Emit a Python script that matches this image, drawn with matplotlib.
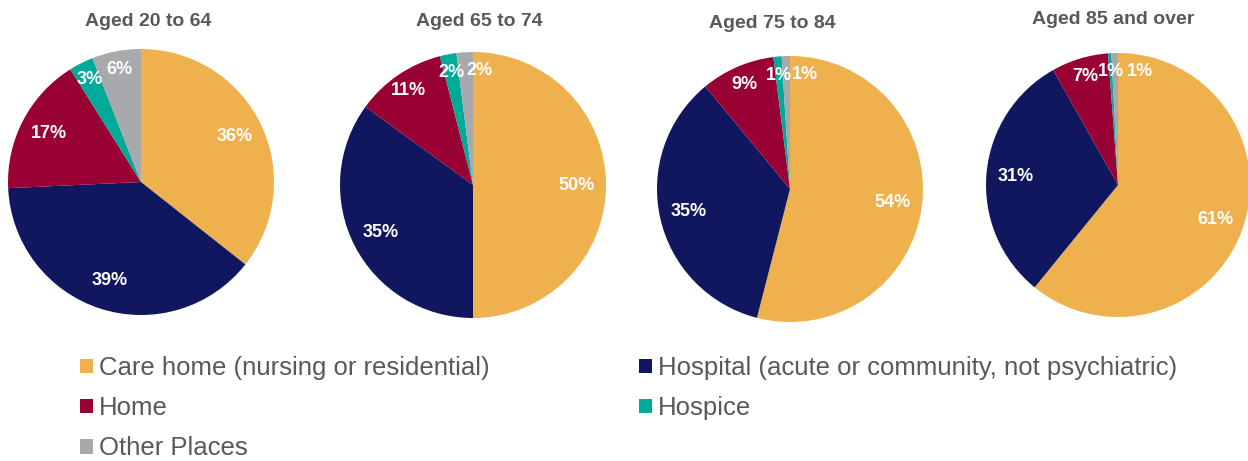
import numpy as np
import matplotlib
matplotlib.use('Agg')
import matplotlib.pyplot as plt
from matplotlib.patches import Patch

plt.rcParams['font.family'] = ['Liberation Sans', 'DejaVu Sans']

# data
age_groups = ['Aged 20 to 64', 'Aged 65 to 74', 'Aged 75 to 84', 'Aged 85 and over']
places = ['Care home (nursing or residential)',
          'Hospital (acute or community, not psychiatric)',
          'Home', 'Hospice', 'Other Places']
care_home = [36, 50, 54, 61]
hospital = [39, 35, 35, 31]
home = [17, 11, 9, 7]
hospice = [3, 2, 1, 0.4]
other = [6, 2, 1, 0.8]

colors = ['#EFB04E', '#11175E', '#990033', '#00AA99', '#A7A9AC']
text_grey = '#595959'

W, H = 1248, 461
fig = plt.figure(figsize=(W / 100, H / 100), dpi=100)

# pie layout in pixels: centre x, centre y, radius, title x, title y
pie_pos = [(141, 182, 133, 148, 21),
           (473, 185, 133, 479, 21),
           (790, 189, 133, 772, 24),
           (1118, 185, 132, 1113, 20)]
# sideways shift of the last label so the tiny slices don't overlap
last_nudge = [0, 0.1, 0.14, 0.19]

for i, grp in enumerate(age_groups):
    cx, cy, r, tx, ty = pie_pos[i]
    ax = fig.add_axes([(cx - r) / W, (H - cy - r) / H, 2 * r / W, 2 * r / H])
    vals = [care_home[i], hospital[i], home[i], hospice[i], other[i]]
    wedges, _ = ax.pie(vals, colors=colors, startangle=90, counterclock=False,
                       wedgeprops=dict(linewidth=0))
    for j, (w, v) in enumerate(zip(wedges, vals)):
        ang = np.deg2rad((w.theta1 + w.theta2) / 2)
        rr = 0.78 if v >= 12 else 0.86
        x = rr * np.cos(ang)
        y = rr * np.sin(ang)
        if j == len(vals) - 1:
            x += last_nudge[i]
        ax.text(x, y, f"{max(1, round(v))}%", ha='center', va='center',
                color='white', fontsize=13, fontweight='bold')
    ax.set_xlim(-1, 1)
    ax.set_ylim(-1, 1)
    fig.text(tx / W, 1 - ty / H, grp, ha='center', va='center',
             fontsize=14, fontweight='bold', color=text_grey)

order = [0, 2, 4, 1, 3]
handles = [Patch(facecolor=colors[k], edgecolor='none') for k in order]
labels = [places[k] for k in order]
fig.legend(handles, labels, ncol=2, loc='upper left',
           bbox_to_anchor=(80 / W, 1 - 356 / H), frameon=False,
           fontsize=18.5, labelcolor=text_grey,
           handlelength=0.5, handleheight=0.5, handletextpad=0.25,
           columnspacing=5.8, labelspacing=0.63, borderpad=0, borderaxespad=0)

fig.savefig('out.png', dpi=100)
